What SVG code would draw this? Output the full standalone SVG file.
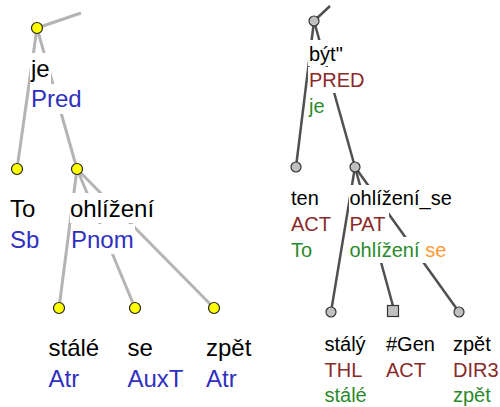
<svg xmlns="http://www.w3.org/2000/svg" width="500" height="407" viewBox="0 0 500 407">
<style>
  .L { font-family: "Liberation Sans", Arial, sans-serif; font-size: 24px; }
  .R { font-family: "Liberation Sans", Arial, sans-serif; font-size: 20px; }
  .w { fill: #000000; }
  .fl { fill: #3030c0; }
  .fr { fill: #8a2a2a; }
  .g { fill: #2a8a2a; }
  .o { fill: #ff9933; }
  .bg { fill: #ffffff; }
  .el { stroke: #b4b4b4; stroke-width: 3; fill: none; }
  .er { stroke: #505050; stroke-width: 2.5; fill: none; }
  .ny { fill: #ffff00; stroke: #222222; stroke-width: 1.2; }
  .ng { fill: #c0c0c0; stroke: #333333; stroke-width: 1.2; }
</style>
<rect width="500" height="407" fill="#ffffff"/>
<g id="connectors">
  <line class="el" x1="37" y1="28" x2="81" y2="13"/>
  <line class="el" x1="37" y1="28" x2="17" y2="169"/>
  <line class="el" x1="37" y1="28" x2="77" y2="169"/>
  <line class="el" x1="77" y1="169" x2="59" y2="308"/>
  <line class="el" x1="77" y1="169" x2="135" y2="308"/>
  <line class="el" x1="77" y1="169" x2="214" y2="308"/>
  <line class="er" x1="314" y1="21" x2="330" y2="6"/>
  <line class="er" x1="314" y1="21" x2="296" y2="167"/>
  <line class="er" x1="314" y1="21" x2="355" y2="167"/>
  <line class="er" x1="355" y1="167" x2="331" y2="312"/>
  <line class="er" x1="355" y1="167" x2="393" y2="306"/>
  <line class="er" x1="355" y1="167" x2="459" y2="312"/>
</g>
<g id="n-je">
  <circle class="ny" cx="37" cy="28" r="5.5"/>
  <rect class="bg" x="30" y="53" width="21" height="30"/>
  <rect class="bg" x="30" y="84" width="53" height="30"/>
  <text class="L w" x="31" y="77">je</text>
  <text class="L fl" x="31" y="107">Pred</text>
</g>
<g id="n-to">
  <circle class="ny" cx="17" cy="169" r="5.5"/>
  <rect class="bg" x="9" y="193" width="31" height="30"/>
  <rect class="bg" x="9" y="224" width="31" height="30"/>
  <text class="L w" x="10" y="217">To</text>
  <text class="L fl" x="10" y="248">Sb</text>
</g>
<g id="n-ohlizeni">
  <circle class="ny" cx="77" cy="169" r="5.5"/>
  <rect class="bg" x="70" y="193" width="86" height="30"/>
  <rect class="bg" x="71" y="224" width="64" height="30"/>
  <text class="L w" x="70" y="217">ohlížení</text>
  <text class="L fl" x="71" y="248">Pnom</text>
</g>
<g id="n-stale">
  <circle class="ny" cx="59" cy="308" r="5.5"/>
  <text class="L w" x="48.5" y="356">stálé</text>
  <text class="L fl" x="48.5" y="387">Atr</text>
</g>
<g id="n-se">
  <circle class="ny" cx="135" cy="308" r="5.5"/>
  <text class="L w" x="127.5" y="356">se</text>
  <text class="L fl" x="127.5" y="387">AuxT</text>
</g>
<g id="n-zpet">
  <circle class="ny" cx="214" cy="308" r="5.5"/>
  <text class="L w" x="206" y="356">zpět</text>
  <text class="L fl" x="206" y="387">Atr</text>
</g>
<g id="t-byt">
  <circle class="ng" cx="314" cy="21" r="5"/>
  <rect class="bg" x="308" y="40" width="37" height="26"/>
  <rect class="bg" x="308" y="67" width="58" height="26"/>
  <rect class="bg" x="308" y="93" width="18" height="26"/>
  <text class="R w" x="309" y="61">být"</text>
  <text class="R fr" x="309" y="87">PRED</text>
  <text class="R g" x="309" y="113">je</text>
</g>
<g id="t-ten">
  <circle class="ng" cx="296" cy="167" r="5"/>
  <rect class="bg" x="290" y="185" width="30" height="26"/>
  <rect class="bg" x="290" y="211" width="42" height="26"/>
  <rect class="bg" x="290" y="237" width="26" height="26"/>
  <text class="R w" x="291" y="205">ten</text>
  <text class="R fr" x="291" y="231">ACT</text>
  <text class="R g" x="291" y="257">To</text>
</g>
<g id="t-ohlizeni_se">
  <circle class="ng" cx="355" cy="167" r="5"/>
  <rect class="bg" x="349" y="185" width="104" height="26"/>
  <rect class="bg" x="349" y="211" width="40" height="26"/>
  <rect class="bg" x="349" y="237" width="99" height="26"/>
  <text class="R w" x="349.5" y="205">ohlížení_se</text>
  <text class="R fr" x="349.5" y="231">PAT</text>
  <text class="R" x="349.5" y="257"><tspan class="g">ohlížení</tspan> <tspan class="o">se</tspan></text>
</g>
<g id="t-staly">
  <circle class="ng" cx="331" cy="312" r="5"/>
  <text class="R w" x="324.5" y="351">stálý</text>
  <text class="R fr" x="324.5" y="377">THL</text>
  <text class="R g" x="324.5" y="402">stálé</text>
</g>
<g id="t-gen">
  <rect class="ng" x="387.5" y="305.5" width="11" height="11"/>
  <text class="R w" x="386" y="351">#Gen</text>
  <text class="R fr" x="386" y="377">ACT</text>
</g>
<g id="t-zpet">
  <circle class="ng" cx="459" cy="312" r="5"/>
  <text class="R w" x="453" y="351">zpět</text>
  <text class="R fr" x="453" y="377">DIR3</text>
  <text class="R g" x="453" y="402">zpět</text>
</g>
</svg>
